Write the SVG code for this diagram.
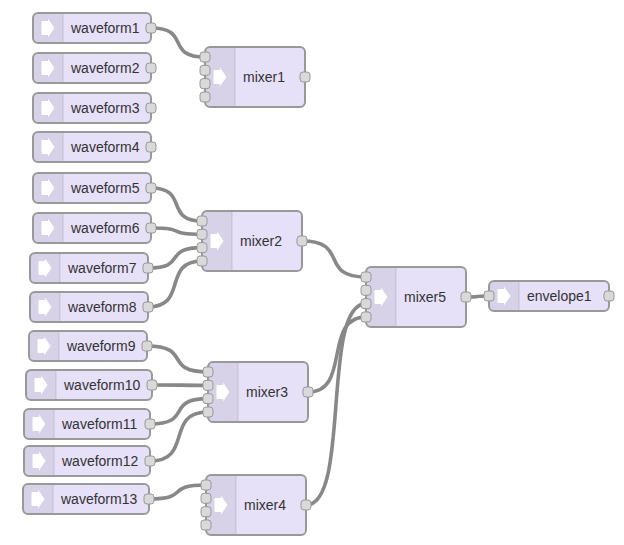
<svg xmlns="http://www.w3.org/2000/svg" xmlns:xlink="http://www.w3.org/1999/xlink" width="624" height="545" viewBox="0 0 624 545">
<style>
.body{fill:#e6e0f8;stroke:none}
.shade{fill:#000;fill-opacity:0.06;stroke:none}
.sep{stroke:#000;stroke-opacity:0.12;stroke-width:1}
.outline{fill:none;stroke:#999;stroke-width:2}
.port{fill:#d9d9d9;stroke:#999;stroke-width:1}
.lbl{font-family:"Liberation Sans",Arial,sans-serif;font-size:14px;fill:#333}
.link{fill:none;stroke:#888;stroke-width:3.6}
</style>
<defs>
<path id="icon" d="M9.5,-7 H15 V-9.5 L21.5,0 L15,9.5 V7 H9.5 Q8.5,7 8.5,6 V-6 Q8.5,-7 9.5,-7 Z" fill="#fff"/>
</defs>
<rect width="624" height="545" fill="#fff"/>
<g id="links">
<path class="link" d="M151,28 C191.5,28 164.5,57 205,57"/>
<path class="link" d="M151,188 C189.25,188 163.75,221 202,221"/>
<path class="link" d="M151,228 C189.25,228 163.75,234.33 202,234.33"/>
<path class="link" d="M148,268 C188.5,268 161.5,247.67 202,247.67"/>
<path class="link" d="M148,307 C188.5,307 161.5,261 202,261"/>
<path class="link" d="M302,241 C350,241 318,277 366,277"/>
<path class="link" d="M147,346 C192.75,346 162.25,372 208,372"/>
<path class="link" d="M152,385 C194,385 166,385.33 208,385.33"/>
<path class="link" d="M150,424 C193.5,424 164.5,398.67 208,398.67"/>
<path class="link" d="M150,461 C193.5,461 164.5,412 208,412"/>
<path class="link" d="M149,499 C191.75,499 163.25,485 206,485"/>
<path class="link" d="M308,392 C351.5,392 322.5,317 366,317"/>
<path class="link" d="M306,505 C351,505 321,303.67 366,303.67"/>
<path class="link" d="M466,297 C483.25,297 471.75,296 489,296"/>
</g>
<g id="waveform1">
<rect class="body" x="33" y="13" width="118" height="30" rx="5"/>
<path class="shade" d="M63,13 H38 A5,5 0 0 0 33,18 V38 A5,5 0 0 0 38,43 H63 Z"/>
<line class="sep" x1="63" y1="13" x2="63" y2="43"/>
<rect class="outline" x="33" y="13" width="118" height="30" rx="5"/>
<use xlink:href="#icon" x="33" y="28"/>
<text class="lbl" x="71" y="33">waveform1</text>
<rect class="port" x="146" y="23" width="10" height="10" rx="3"/>
</g>
<g id="waveform2">
<rect class="body" x="33" y="53" width="118" height="30" rx="5"/>
<path class="shade" d="M63,53 H38 A5,5 0 0 0 33,58 V78 A5,5 0 0 0 38,83 H63 Z"/>
<line class="sep" x1="63" y1="53" x2="63" y2="83"/>
<rect class="outline" x="33" y="53" width="118" height="30" rx="5"/>
<use xlink:href="#icon" x="33" y="68"/>
<text class="lbl" x="71" y="73">waveform2</text>
<rect class="port" x="146" y="63" width="10" height="10" rx="3"/>
</g>
<g id="waveform3">
<rect class="body" x="33" y="93" width="118" height="30" rx="5"/>
<path class="shade" d="M63,93 H38 A5,5 0 0 0 33,98 V118 A5,5 0 0 0 38,123 H63 Z"/>
<line class="sep" x1="63" y1="93" x2="63" y2="123"/>
<rect class="outline" x="33" y="93" width="118" height="30" rx="5"/>
<use xlink:href="#icon" x="33" y="108"/>
<text class="lbl" x="71" y="113">waveform3</text>
<rect class="port" x="146" y="103" width="10" height="10" rx="3"/>
</g>
<g id="waveform4">
<rect class="body" x="33" y="132" width="118" height="30" rx="5"/>
<path class="shade" d="M63,132 H38 A5,5 0 0 0 33,137 V157 A5,5 0 0 0 38,162 H63 Z"/>
<line class="sep" x1="63" y1="132" x2="63" y2="162"/>
<rect class="outline" x="33" y="132" width="118" height="30" rx="5"/>
<use xlink:href="#icon" x="33" y="147"/>
<text class="lbl" x="71" y="152">waveform4</text>
<rect class="port" x="146" y="142" width="10" height="10" rx="3"/>
</g>
<g id="waveform5">
<rect class="body" x="33" y="173" width="118" height="30" rx="5"/>
<path class="shade" d="M63,173 H38 A5,5 0 0 0 33,178 V198 A5,5 0 0 0 38,203 H63 Z"/>
<line class="sep" x1="63" y1="173" x2="63" y2="203"/>
<rect class="outline" x="33" y="173" width="118" height="30" rx="5"/>
<use xlink:href="#icon" x="33" y="188"/>
<text class="lbl" x="71" y="193">waveform5</text>
<rect class="port" x="146" y="183" width="10" height="10" rx="3"/>
</g>
<g id="waveform6">
<rect class="body" x="33" y="213" width="118" height="30" rx="5"/>
<path class="shade" d="M63,213 H38 A5,5 0 0 0 33,218 V238 A5,5 0 0 0 38,243 H63 Z"/>
<line class="sep" x1="63" y1="213" x2="63" y2="243"/>
<rect class="outline" x="33" y="213" width="118" height="30" rx="5"/>
<use xlink:href="#icon" x="33" y="228"/>
<text class="lbl" x="71" y="233">waveform6</text>
<rect class="port" x="146" y="223" width="10" height="10" rx="3"/>
</g>
<g id="waveform7">
<rect class="body" x="30" y="253" width="118" height="30" rx="5"/>
<path class="shade" d="M60,253 H35 A5,5 0 0 0 30,258 V278 A5,5 0 0 0 35,283 H60 Z"/>
<line class="sep" x1="60" y1="253" x2="60" y2="283"/>
<rect class="outline" x="30" y="253" width="118" height="30" rx="5"/>
<use xlink:href="#icon" x="30" y="268"/>
<text class="lbl" x="68" y="273">waveform7</text>
<rect class="port" x="143" y="263" width="10" height="10" rx="3"/>
</g>
<g id="waveform8">
<rect class="body" x="30" y="292" width="118" height="30" rx="5"/>
<path class="shade" d="M60,292 H35 A5,5 0 0 0 30,297 V317 A5,5 0 0 0 35,322 H60 Z"/>
<line class="sep" x1="60" y1="292" x2="60" y2="322"/>
<rect class="outline" x="30" y="292" width="118" height="30" rx="5"/>
<use xlink:href="#icon" x="30" y="307"/>
<text class="lbl" x="68" y="312">waveform8</text>
<rect class="port" x="143" y="302" width="10" height="10" rx="3"/>
</g>
<g id="waveform9">
<rect class="body" x="29" y="331" width="118" height="30" rx="5"/>
<path class="shade" d="M59,331 H34 A5,5 0 0 0 29,336 V356 A5,5 0 0 0 34,361 H59 Z"/>
<line class="sep" x1="59" y1="331" x2="59" y2="361"/>
<rect class="outline" x="29" y="331" width="118" height="30" rx="5"/>
<use xlink:href="#icon" x="29" y="346"/>
<text class="lbl" x="67" y="351">waveform9</text>
<rect class="port" x="142" y="341" width="10" height="10" rx="3"/>
</g>
<g id="waveform10">
<rect class="body" x="26" y="370" width="126" height="30" rx="5"/>
<path class="shade" d="M56,370 H31 A5,5 0 0 0 26,375 V395 A5,5 0 0 0 31,400 H56 Z"/>
<line class="sep" x1="56" y1="370" x2="56" y2="400"/>
<rect class="outline" x="26" y="370" width="126" height="30" rx="5"/>
<use xlink:href="#icon" x="26" y="385"/>
<text class="lbl" x="64" y="390">waveform10</text>
<rect class="port" x="147" y="380" width="10" height="10" rx="3"/>
</g>
<g id="waveform11">
<rect class="body" x="24" y="409" width="126" height="30" rx="5"/>
<path class="shade" d="M54,409 H29 A5,5 0 0 0 24,414 V434 A5,5 0 0 0 29,439 H54 Z"/>
<line class="sep" x1="54" y1="409" x2="54" y2="439"/>
<rect class="outline" x="24" y="409" width="126" height="30" rx="5"/>
<use xlink:href="#icon" x="24" y="424"/>
<text class="lbl" x="62" y="429">waveform11</text>
<rect class="port" x="145" y="419" width="10" height="10" rx="3"/>
</g>
<g id="waveform12">
<rect class="body" x="24" y="446" width="126" height="30" rx="5"/>
<path class="shade" d="M54,446 H29 A5,5 0 0 0 24,451 V471 A5,5 0 0 0 29,476 H54 Z"/>
<line class="sep" x1="54" y1="446" x2="54" y2="476"/>
<rect class="outline" x="24" y="446" width="126" height="30" rx="5"/>
<use xlink:href="#icon" x="24" y="461"/>
<text class="lbl" x="62" y="466">waveform12</text>
<rect class="port" x="145" y="456" width="10" height="10" rx="3"/>
</g>
<g id="waveform13">
<rect class="body" x="23" y="484" width="126" height="30" rx="5"/>
<path class="shade" d="M53,484 H28 A5,5 0 0 0 23,489 V509 A5,5 0 0 0 28,514 H53 Z"/>
<line class="sep" x1="53" y1="484" x2="53" y2="514"/>
<rect class="outline" x="23" y="484" width="126" height="30" rx="5"/>
<use xlink:href="#icon" x="23" y="499"/>
<text class="lbl" x="61" y="504">waveform13</text>
<rect class="port" x="144" y="494" width="10" height="10" rx="3"/>
</g>
<g id="mixer1">
<rect class="body" x="205" y="47" width="100" height="60" rx="5"/>
<path class="shade" d="M235,47 H210 A5,5 0 0 0 205,52 V102 A5,5 0 0 0 210,107 H235 Z"/>
<line class="sep" x1="235" y1="47" x2="235" y2="107"/>
<rect class="outline" x="205" y="47" width="100" height="60" rx="5"/>
<use xlink:href="#icon" x="205" y="77"/>
<text class="lbl" x="243" y="82">mixer1</text>
<rect class="port" x="200" y="52" width="10" height="10" rx="3"/>
<rect class="port" x="200" y="65.33" width="10" height="10" rx="3"/>
<rect class="port" x="200" y="78.67" width="10" height="10" rx="3"/>
<rect class="port" x="200" y="92" width="10" height="10" rx="3"/>
<rect class="port" x="300" y="72" width="10" height="10" rx="3"/>
</g>
<g id="mixer2">
<rect class="body" x="202" y="211" width="100" height="60" rx="5"/>
<path class="shade" d="M232,211 H207 A5,5 0 0 0 202,216 V266 A5,5 0 0 0 207,271 H232 Z"/>
<line class="sep" x1="232" y1="211" x2="232" y2="271"/>
<rect class="outline" x="202" y="211" width="100" height="60" rx="5"/>
<use xlink:href="#icon" x="202" y="241"/>
<text class="lbl" x="240" y="246">mixer2</text>
<rect class="port" x="197" y="216" width="10" height="10" rx="3"/>
<rect class="port" x="197" y="229.33" width="10" height="10" rx="3"/>
<rect class="port" x="197" y="242.67" width="10" height="10" rx="3"/>
<rect class="port" x="197" y="256" width="10" height="10" rx="3"/>
<rect class="port" x="297" y="236" width="10" height="10" rx="3"/>
</g>
<g id="mixer3">
<rect class="body" x="208" y="362" width="100" height="60" rx="5"/>
<path class="shade" d="M238,362 H213 A5,5 0 0 0 208,367 V417 A5,5 0 0 0 213,422 H238 Z"/>
<line class="sep" x1="238" y1="362" x2="238" y2="422"/>
<rect class="outline" x="208" y="362" width="100" height="60" rx="5"/>
<use xlink:href="#icon" x="208" y="392"/>
<text class="lbl" x="246" y="397">mixer3</text>
<rect class="port" x="203" y="367" width="10" height="10" rx="3"/>
<rect class="port" x="203" y="380.33" width="10" height="10" rx="3"/>
<rect class="port" x="203" y="393.67" width="10" height="10" rx="3"/>
<rect class="port" x="203" y="407" width="10" height="10" rx="3"/>
<rect class="port" x="303" y="387" width="10" height="10" rx="3"/>
</g>
<g id="mixer4">
<rect class="body" x="206" y="475" width="100" height="60" rx="5"/>
<path class="shade" d="M236,475 H211 A5,5 0 0 0 206,480 V530 A5,5 0 0 0 211,535 H236 Z"/>
<line class="sep" x1="236" y1="475" x2="236" y2="535"/>
<rect class="outline" x="206" y="475" width="100" height="60" rx="5"/>
<use xlink:href="#icon" x="206" y="505"/>
<text class="lbl" x="244" y="510">mixer4</text>
<rect class="port" x="201" y="480" width="10" height="10" rx="3"/>
<rect class="port" x="201" y="493.33" width="10" height="10" rx="3"/>
<rect class="port" x="201" y="506.67" width="10" height="10" rx="3"/>
<rect class="port" x="201" y="520" width="10" height="10" rx="3"/>
<rect class="port" x="301" y="500" width="10" height="10" rx="3"/>
</g>
<g id="mixer5">
<rect class="body" x="366" y="267" width="100" height="60" rx="5"/>
<path class="shade" d="M396,267 H371 A5,5 0 0 0 366,272 V322 A5,5 0 0 0 371,327 H396 Z"/>
<line class="sep" x1="396" y1="267" x2="396" y2="327"/>
<rect class="outline" x="366" y="267" width="100" height="60" rx="5"/>
<use xlink:href="#icon" x="366" y="297"/>
<text class="lbl" x="404" y="302">mixer5</text>
<rect class="port" x="361" y="272" width="10" height="10" rx="3"/>
<rect class="port" x="361" y="285.33" width="10" height="10" rx="3"/>
<rect class="port" x="361" y="298.67" width="10" height="10" rx="3"/>
<rect class="port" x="361" y="312" width="10" height="10" rx="3"/>
<rect class="port" x="461" y="292" width="10" height="10" rx="3"/>
</g>
<g id="envelope1">
<rect class="body" x="489" y="281" width="120" height="30" rx="5"/>
<path class="shade" d="M519,281 H494 A5,5 0 0 0 489,286 V306 A5,5 0 0 0 494,311 H519 Z"/>
<line class="sep" x1="519" y1="281" x2="519" y2="311"/>
<rect class="outline" x="489" y="281" width="120" height="30" rx="5"/>
<use xlink:href="#icon" x="489" y="296"/>
<text class="lbl" x="527" y="301">envelope1</text>
<rect class="port" x="484" y="291" width="10" height="10" rx="3"/>
<rect class="port" x="604" y="291" width="10" height="10" rx="3"/>
</g>
</svg>
